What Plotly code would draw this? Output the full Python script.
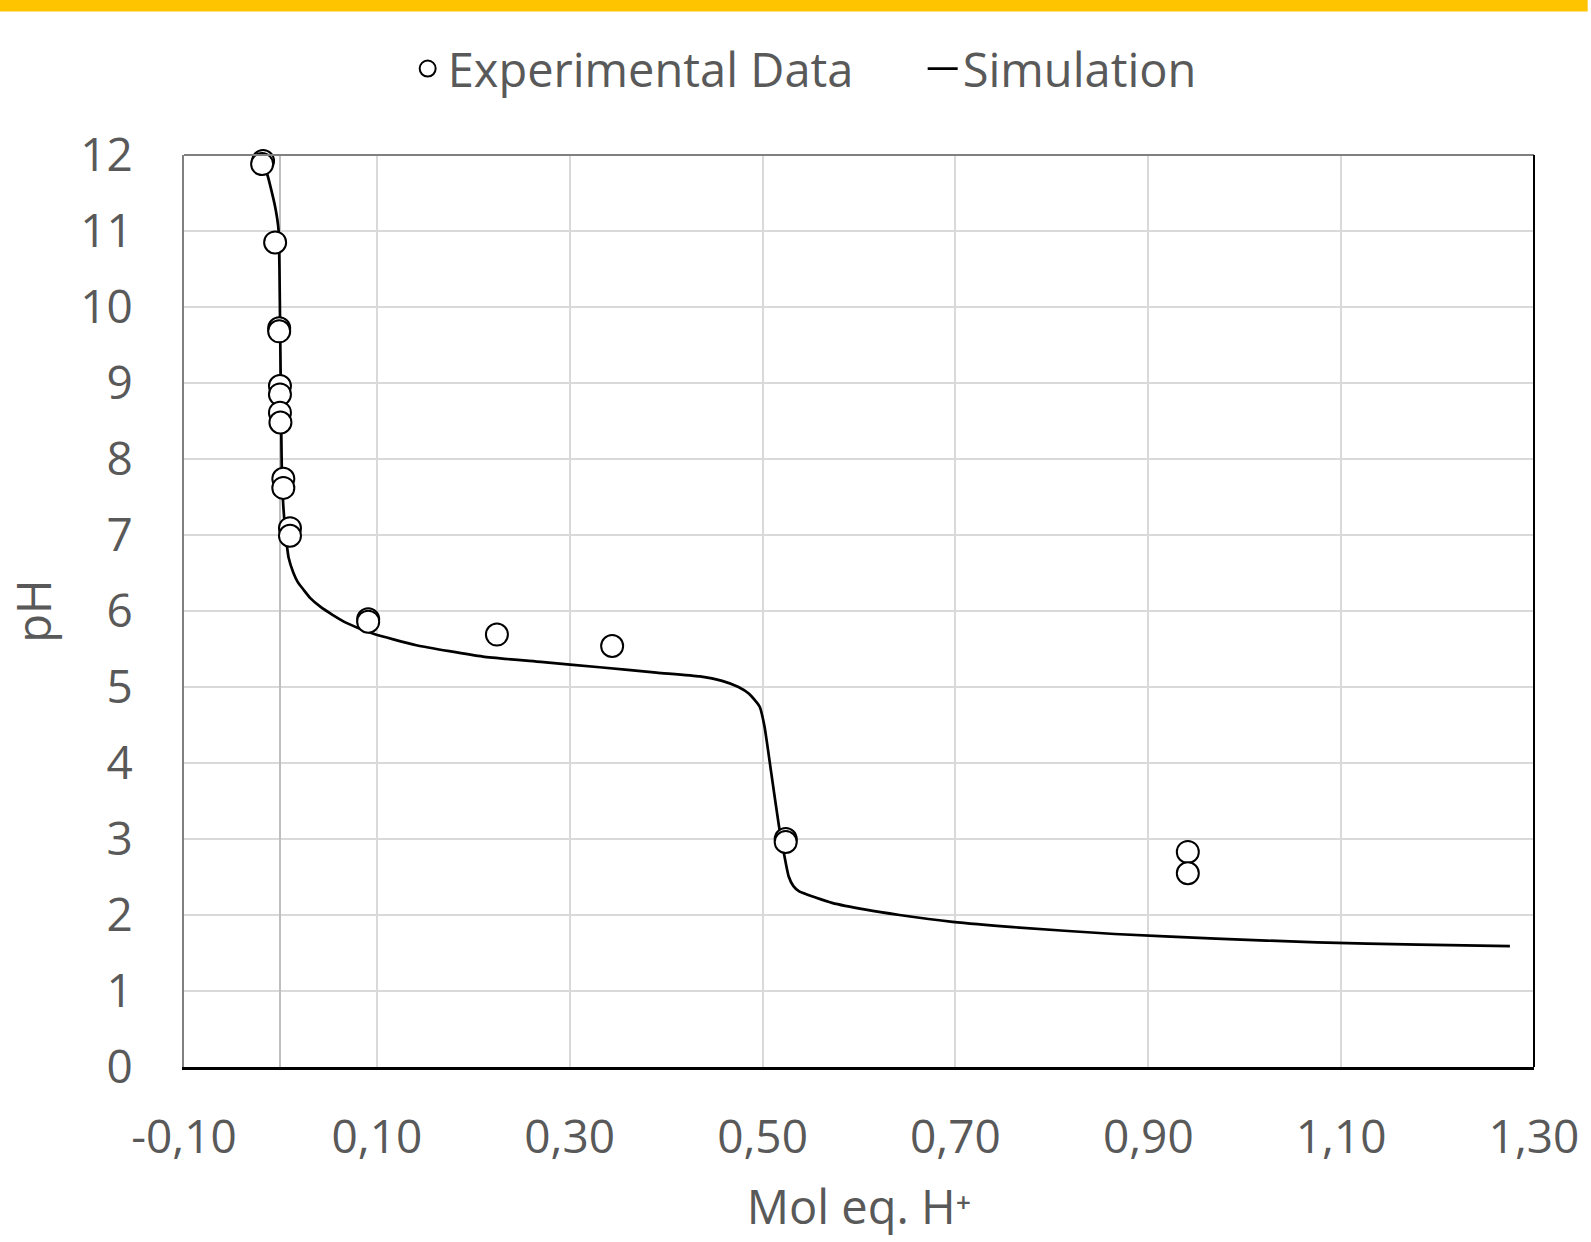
import plotly.graph_objects as go

# ---- data ----
exp_x = [-0.018, -0.019, -0.0055, -0.0013, -0.0013, -0.0005, -0.0005, -0.0005, 0.0,
         0.003, 0.003, 0.0099, 0.0099, 0.091, 0.091, 0.2245, 0.344, 0.524, 0.524, 0.941, 0.941]
exp_y = [11.92, 11.88, 10.85, 9.72, 9.68, 8.96, 8.85, 8.61, 8.48,
         7.74, 7.62, 7.09, 6.99, 5.89, 5.86, 5.69, 5.54, 3.00, 2.96, 2.83, 2.55]

sim_x = [-0.018, -0.014, -0.0055, -0.002, -0.001, -0.0003, 0.001, 0.0015, 0.003, 0.0055,
         0.0068, 0.0085, 0.0135, 0.018, 0.024, 0.031, 0.041, 0.054, 0.069, 0.0964,
         0.141, 0.210, 0.270, 0.331, 0.390, 0.435, 0.458, 0.475, 0.486, 0.497,
         0.502, 0.509, 0.517, 0.522, 0.527, 0.532, 0.538, 0.555, 0.572, 0.607,
         0.642, 0.697, 0.760, 0.865, 0.970, 1.075, 1.180, 1.275]
sim_y = [11.86, 11.76, 11.32, 11.02, 10.50, 9.70, 8.25, 7.82, 7.38, 7.00,
         6.85, 6.70, 6.50, 6.38, 6.28, 6.17, 6.06, 5.95, 5.84, 5.70,
         5.55, 5.40, 5.33, 5.26, 5.19, 5.14, 5.08, 5.00, 4.91, 4.74,
         4.48, 3.87, 3.17, 2.82, 2.51, 2.38, 2.31, 2.23, 2.16, 2.07,
         2.00, 1.91, 1.84, 1.75, 1.69, 1.64, 1.61, 1.59]

x_tickvals = [-0.10, 0.10, 0.30, 0.50, 0.70, 0.90, 1.10, 1.30]
x_ticktext = ["-0,10", "0,10", "0,30", "0,50", "0,70", "0,90", "1,10", "1,30"]
y_tickvals = list(range(0, 13))

# ---- layout geometry ----
W, H = 1591, 1242
ML, MR, MT, MB = 184, 49, 155, 175
PW = W - ML - MR
PH = H - MT - MB
FONT = "Open Sans"
TXT = "#595959"

fig = go.Figure()
fig.add_trace(go.Scatter(
    x=sim_x, y=sim_y, mode="lines", name="Simulation",
    line=dict(color="black", width=2.7, shape="spline", smoothing=0.5),
    legendrank=2))
fig.add_trace(go.Scatter(
    x=exp_x, y=exp_y, mode="markers", name="Experimental Data",
    marker=dict(symbol="circle", size=22, color="white",
                line=dict(color="black", width=2)),
    cliponaxis=False, legendrank=1))

def py_to_paper(py):
    return (H - MB - py) / PH

def px_to_paper(px):
    return (px - ML) / PW

shapes = [
    # yellow band at page top
    dict(type="rect", xref="paper", yref="paper", x0=px_to_paper(-5), x1=px_to_paper(W + 5),
         y0=py_to_paper(11.5), y1=py_to_paper(-2),
         fillcolor="#FFC400", line=dict(width=0), layer="above"),
    # frame top and right
    dict(type="line", xref="paper", yref="paper", x0=0, x1=1, y0=1, y1=1,
         line=dict(color="#808080", width=2)),
    dict(type="line", xref="paper", yref="paper", x0=1, x1=1, y0=0, y1=1,
         line=dict(color="black", width=2)),
]

fig.update_layout(
    width=W, height=H,
    margin=dict(l=ML, r=MR, t=MT, b=MB),
    paper_bgcolor="white", plot_bgcolor="white",
    font=dict(family=FONT, color=TXT, size=46),
    showlegend=True,
    legend=dict(orientation="h", x=px_to_paper(409), xanchor="left", y=py_to_paper(69),
                yanchor="middle", font=dict(size=47, color=TXT),
                bgcolor="rgba(0,0,0,0)", itemsizing="trace", entrywidth=470),
    shapes=shapes,
    xaxis=dict(range=[-0.10, 1.30], tickvals=x_tickvals, ticktext=x_ticktext,
               showgrid=True, gridcolor="#d9d9d9", gridwidth=1.5,
               zeroline=True, zerolinecolor="#bfbfbf", zerolinewidth=2,
               showline=True, linecolor="black", linewidth=3,
               ticks="", ticklabelstandoff=28,
               tickfont=dict(size=46, color=TXT),
               title=dict(text="Mol eq. H⁺", font=dict(size=47, color=TXT), standoff=26)),
    yaxis=dict(range=[0, 12], tickvals=y_tickvals,
               showgrid=True, gridcolor="#d9d9d9", gridwidth=1.5,
               zeroline=False,
               showline=True, linecolor="#808080", linewidth=2,
               ticks="", ticklabelstandoff=40,
               tickfont=dict(size=46, color=TXT),
               title=dict(text="pH", font=dict(size=47, color=TXT), standoff=14)),
)

fig.write_html("out.html")
